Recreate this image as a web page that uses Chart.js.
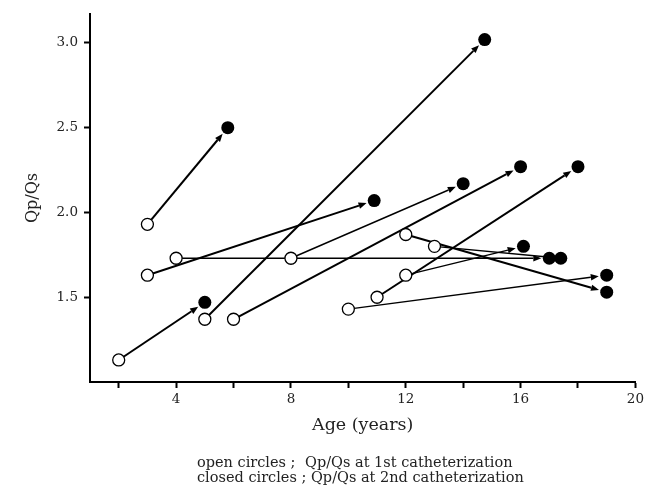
<!DOCTYPE html>
<html>
<head>
<meta charset="utf-8">
<script src="https://cdn.jsdelivr.net/npm/chart.js@4.4.1/dist/chart.umd.min.js"></script>
<style>
  html, body { margin: 0; padding: 0; background: #fff; }
  #wrap { width: 647px; height: 487px; }
</style>
</head>
<body>
<div id="wrap"><canvas id="c" width="647" height="487"></canvas></div>
<script>
// first catheterization (open circles)
const age1 = [2, 3, 3, 4, 5, 6, 8, 10, 11, 12, 12, 13];
const qp1  = [1.13, 1.93, 1.63, 1.73, 1.37, 1.37, 1.73, 1.43, 1.50, 1.63, 1.87, 1.80];
// second catheterization (closed circles)
const age2 = [5.0, 5.8, 10.9, 17.0, 14.75, 16.0, 14.0, 19.0, 18.0, 16.1, 19.0, 17.4];
const qp2  = [1.47, 2.50, 2.07, 1.73, 3.02, 2.27, 2.17, 1.63, 2.27, 1.80, 1.53, 1.73];
// which arrows are drawn with the thinner pen
const thinArrow = [false, false, false, true, false, false, true, true, false, true, false, true];

const xTicks = [2, 4, 6, 8, 10, 12, 14, 16, 18, 20];
const yTicks = [1.5, 2.0, 2.5, 3.0];
const notes = [
    ['open circles ;', 'Qp/Qs at 1st catheterization'],
    ['closed circles ; Qp/Qs at 2nd catheterization', '']
];

const serif = 'DejaVu Serif';

/**
 * Arrows from the 1st to the 2nd measurement, drawn under the circles
 */
const arrowPlugin = {
    id: 'arrows',
    beforeDatasetsDraw(chart) {
        const ctx = chart.ctx;
        const xs = chart.scales.x, ys = chart.scales.y;
        ctx.save();
        ctx.strokeStyle = '#000';
        ctx.fillStyle = '#000';
        for (let i = 0; i < age1.length; i++) {
            const x0 = xs.getPixelForValue(age1[i]), y0 = ys.getPixelForValue(qp1[i]);
            const x1 = xs.getPixelForValue(age2[i]), y1 = ys.getPixelForValue(qp2[i]);
            const ang = Math.atan2(y1 - y0, x1 - x0);
            const tipX = x1 - Math.cos(ang) * 8, tipY = y1 - Math.sin(ang) * 8;
            const head = 8, half = 3.2;
            const bx = tipX - Math.cos(ang) * head, by = tipY - Math.sin(ang) * head;
            ctx.lineWidth = thinArrow[i] ? 1.4 : 2;
            ctx.beginPath();
            ctx.moveTo(x0, y0);
            ctx.lineTo(bx, by);
            ctx.stroke();
            ctx.beginPath();
            ctx.moveTo(tipX, tipY);
            ctx.lineTo(bx - Math.sin(ang) * half, by + Math.cos(ang) * half);
            ctx.lineTo(bx + Math.sin(ang) * half, by - Math.cos(ang) * half);
            ctx.closePath();
            ctx.fill();
        }
        ctx.restore();
    }
};

/**
 * The two-line key under the x axis title
 */
const notesPlugin = {
    id: 'notes',
    afterDraw(chart) {
        const ctx = chart.ctx;
        ctx.save();
        ctx.fillStyle = '#222';
        ctx.font = '14.5px "' + serif + '"';
        ctx.textBaseline = 'middle';
        ctx.textAlign = 'left';
        notes.forEach((n, i) => {
            const y = 463 + i * 15;
            ctx.fillText(n[0], 197, y);
            if (n[1]) ctx.fillText(n[1], 305, y);
        });
        ctx.restore();
    }
};

new Chart(document.getElementById('c'), {
    type: 'scatter',
    data: {
        datasets: [
            {
                label: 'open',
                data: age1.map((a, i) => ({ x: a, y: qp1[i] })),
                pointRadius: 6,
                pointBackgroundColor: '#fff',
                pointBorderColor: '#000',
                pointBorderWidth: 1.3,
                order: 1
            },
            {
                label: 'closed',
                data: age2.map((a, i) => ({ x: a, y: qp2[i] })),
                pointRadius: 6.5,
                pointBackgroundColor: '#000',
                pointBorderColor: '#000',
                pointBorderWidth: 0,
                order: 0
            }
        ]
    },
    options: {
        responsive: false,
        animation: false,
        layout: { padding: { left: 0, right: 10, top: 12, bottom: 0 } },
        plugins: {
            legend: { display: false },
            tooltip: { enabled: false }
        },
        scales: {
            x: {
                type: 'linear',
                min: 1,
                max: 20,
                afterFit: s => { s.height = 105; },
                afterBuildTicks: s => { s.ticks = xTicks.map(v => ({ value: v })); },
                border: { display: true, color: '#000', width: 2 },
                grid: { drawOnChartArea: false, drawTicks: true, tickLength: 6, tickWidth: 2, color: '#000' },
                ticks: {
                    color: '#222',
                    padding: 3,
                    maxRotation: 0,
                    font: { family: serif, size: 13.5 },
                    callback: v => (v % 4 === 0 ? String(v) : '')
                },
                title: {
                    display: true,
                    text: 'Age (years)',
                    color: '#222',
                    font: { family: serif, size: 17.5 },
                    padding: { top: 0, bottom: 51 }
                }
            },
            y: {
                type: 'linear',
                min: 1.0,
                max: 3.17,
                afterFit: s => { s.width = 90; },
                afterBuildTicks: s => { s.ticks = yTicks.map(v => ({ value: v })); },
                border: { display: true, color: '#000', width: 2 },
                grid: { drawOnChartArea: false, drawTicks: true, tickLength: 6, tickWidth: 2, color: '#000' },
                ticks: {
                    color: '#222',
                    padding: 6,
                    font: { family: serif, size: 13.5 },
                    callback: v => v.toFixed(1)
                },
                title: {
                    display: true,
                    text: 'Qp/Qs',
                    color: '#222',
                    font: { family: serif, size: 16 },
                    padding: { top: 23, bottom: 0 }
                }
            }
        }
    },
    plugins: [arrowPlugin, notesPlugin]
});
</script>
</body>
</html>
